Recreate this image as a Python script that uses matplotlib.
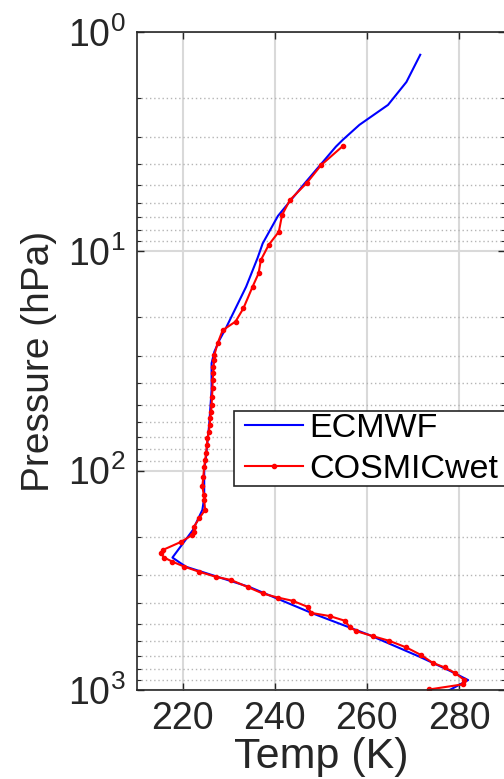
import matplotlib
matplotlib.use("Agg")
import matplotlib.pyplot as plt
import numpy as np
from matplotlib.patches import Rectangle
from matplotlib.ticker import LogLocator, NullFormatter

plt.rcParams['font.family'] = ['Liberation Sans', 'DejaVu Sans']
plt.rcParams['mathtext.fontset'] = 'custom'
plt.rcParams['mathtext.rm'] = 'Liberation Sans'

# ECMWF profile (temperature in K, pressure in hPa)
ecmwf_temp = [271.6, 268.6, 264.6, 258.4, 254.8, 253.3, 246.5, 240.7, 237.4, 236.3,
              233.8, 229.4, 228.0, 226.9, 226.3, 226.3, 225.8, 225.1, 224.7, 224.7,
              224.3, 222.2, 217.8, 220.7, 234.5, 248.3, 260.6, 271.5, 278.0, 282.0, 277.6]
ecmwf_pres = [1.27, 1.69, 2.15, 2.65, 3.1, 3.33, 4.9, 6.9, 9.2, 10.7,
              14.5, 22.4, 25.4, 28.7, 32.4, 42.9, 60.8, 86.4, 99, 133,
              151, 187, 249, 274, 339, 448, 562, 706, 817, 901, 1010]

# COSMIC wet profile
cosmic_temp = [254.8, 250.1, 247.0, 243.3, 241.6, 240.9, 238.7, 237.0, 236.5, 235.2,
               233.2, 231.5, 228.7, 227.6, 226.9, 226.9, 226.7, 226.7, 226.5, 226.5,
               226.4, 226.3, 226.2, 226.0, 225.9, 225.7, 225.4, 225.3, 225.1, 224.9,
               224.7, 224.5, 224.3, 224.6, 224.7, 224.9, 223.6, 222.5, 222.5, 222.0,
               219.7, 215.7, 215.3, 216.0, 217.8, 220.4, 223.6, 227.3, 230.5, 234.1,
               237.4, 240.7, 243.9, 247.2, 247.9, 251.9, 255.2, 256.4, 257.7, 261.3,
               264.9, 268.6, 271.8, 274.3, 276.9, 279.1, 281.2, 280.9, 273.6]
cosmic_pres = [3.31, 4.04, 4.87, 5.84, 6.83, 8.14, 9.35, 10.96, 12.6, 14.5,
               18.2, 20.9, 22.9, 26.3, 29.7, 31.3, 33.6, 36.0, 38.6, 42.2,
               46.0, 50.2, 53.9, 57.8, 62.0, 66.5, 71.2, 76.4, 83.4, 89.5,
               96, 107, 118, 129, 136, 151, 165, 180, 190, 197,
               211, 230, 238, 249, 260, 274, 289, 305, 315, 339,
               363, 379, 392, 418, 445, 460, 483, 518, 539, 568,
               597, 640, 693, 752, 789, 835, 901, 942, 994]

W, H = 504, 779
fig = plt.figure(figsize=(W / 100, H / 100), dpi=100)
ax = fig.add_axes([136.5 / W, 1 - 690 / H, (505 - 136.5) / W, (690 - 32) / H])

ax.plot(ecmwf_temp, ecmwf_pres, color='#0000ff', lw=1.5, label='ECMWF')
ax.plot(cosmic_temp, cosmic_pres, color='#ff0000', lw=1.5, marker='o', ms=3,
        label='COSMICwet')

ax.set_yscale('log')
ax.set_ylim(1000, 1)
ax.set_xlim(210, 290)
ax.set_xticks([220, 240, 260, 280])
ax.yaxis.set_major_locator(LogLocator(base=10, numticks=10))
ax.yaxis.set_minor_locator(LogLocator(base=10, subs=np.arange(2, 10), numticks=10))
ax.yaxis.set_minor_formatter(NullFormatter())

ax.grid(True, which='major', color='#d9d9d9', lw=1.5, ls='-')
ax.grid(True, which='minor', axis='y', color='#b5b5b5', lw=1.0, ls=(0, (1, 2)))
ax.set_axisbelow(True)

for s in ax.spines.values():
    s.set_color('#262626')
    s.set_linewidth(1.2)
ax.tick_params(which='both', direction='in', top=True, right=True, colors='#262626',
               labelsize=27, pad=8)
ax.tick_params(which='major', length=5, width=1)
ax.tick_params(which='minor', length=3, width=0.8)

ax.set_xlabel('Temp (K)', fontsize=31, color='#262626', labelpad=0)
ax.set_ylabel('Pressure (hPa)', fontsize=28, color='#262626', labelpad=8)

# legend box drawn like MATLAB's (tight vertical padding)
frame = Rectangle((234.3 / W, 1 - 486 / H), (560 - 234.3) / W, 75 / H,
                  transform=fig.transFigure, facecolor='white', edgecolor='#262626',
                  lw=1.2, zorder=4, clip_on=False)
ax.add_patch(frame)
leg = ax.legend(loc='upper left', bbox_to_anchor=(245 / W, 1 - 413 / H),
                bbox_transform=fig.transFigure, fontsize=24.5, frameon=False,
                borderpad=0, handlelength=1.7, handletextpad=0.2, labelspacing=0.29,
                borderaxespad=0, numpoints=1)
leg.set_zorder(5)

fig.savefig('out.png', dpi=100)
